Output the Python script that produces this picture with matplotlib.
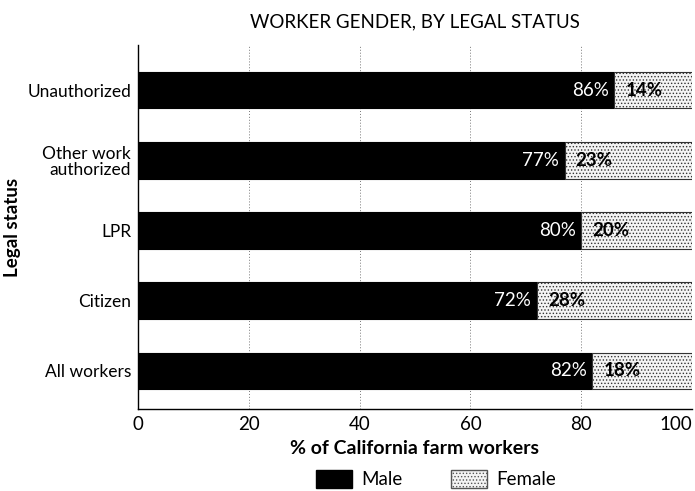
import matplotlib
matplotlib.use("Agg")
import matplotlib.pyplot as plt
from matplotlib.patches import Patch

plt.rcParams['font.family'] = ['Lato', 'DejaVu Sans']
plt.rcParams['hatch.linewidth'] = 0.6
plt.rcParams['hatch.color'] = '#888888'

categories = ["Unauthorized", "Other work\nauthorized", "LPR", "Citizen", "All workers"]
male = [86, 77, 80, 72, 82]
female = [14, 23, 20, 28, 18]
xticks = [0, 20, 40, 60, 80, 100]

fig = plt.figure(figsize=(6.95, 4.91), dpi=100)
ax = fig.add_axes([138/695, 1-409/491, (692-138)/695, (409-45)/491])

y = list(range(len(categories)))
h = 0.52
ax.barh(y, male, height=h, color='black', edgecolor='black', linewidth=0.8, zorder=3)
ax.barh(y, female, left=male, height=h, color='#f4f4f4', edgecolor='#333333',
        linewidth=0.8, hatch='.....', zorder=3)

for yi, m, f in zip(y, male, female):
    ax.text(m - 1.0, yi, f"{m}%", color='white', ha='right', va='center', fontsize=13.5, zorder=4)
    ax.text(m + 2.0, yi, f"{f}%", color='black', ha='left', va='center', fontsize=13.5,
            fontweight='bold', zorder=4)

ax.set_ylim(4 + 38/70, -45/70)
ax.set_xlim(0, 100)
ax.set_yticks(y)
ax.set_yticklabels(categories, fontsize=12.5, linespacing=1.05)
ax.set_xticks(xticks)
ax.set_xticklabels([str(t) for t in xticks], fontsize=13.5)
ax.get_xticklabels()[-1].set_horizontalalignment('right')
ax.tick_params(axis='x', length=0, pad=5)
ax.tick_params(axis='y', length=0, pad=5)
for t in ax.get_yticklabels():
    t.set_multialignment('right')

for gx in [20, 40, 60, 80]:
    ax.axvline(gx, color='#777777', linestyle=(0, (1, 2)), linewidth=0.7, zorder=1)

ax.spines['top'].set_visible(False)
ax.spines['right'].set_visible(False)
ax.spines['left'].set_linewidth(1.0)
ax.spines['bottom'].set_linewidth(1.0)

ax.set_xlabel("% of California farm workers", fontsize=14, fontweight='bold', labelpad=5)
ax.set_ylabel("Legal status", fontsize=13.5, fontweight='bold')
ax.yaxis.set_label_coords((21-138)/554, 0.5)
ax.set_title("WORKER GENDER, BY LEGAL STATUS", fontsize=13.5, pad=13)

handles = [Patch(facecolor='black', edgecolor='black', label='Male'),
           Patch(facecolor='#f4f4f4', edgecolor='#555555', hatch='.....', label='Female')]
fig.legend(handles=handles, loc='center', bbox_to_anchor=(436/695, 1-479/491), ncol=2,
           frameon=False, fontsize=13.5, handlelength=1.9, handleheight=1.1,
           columnspacing=2.6, handletextpad=0.5)

fig.savefig("out.png", dpi=100)
